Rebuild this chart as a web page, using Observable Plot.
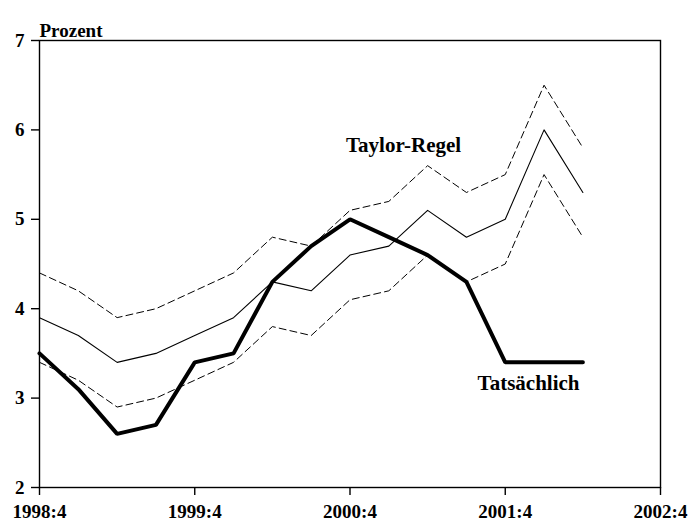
<!DOCTYPE html>
<html>
<head>
<meta charset="utf-8">
<script src="https://cdn.jsdelivr.net/npm/d3@7"></script>
<script src="https://cdn.jsdelivr.net/npm/@observablehq/plot@0.6"></script>
<style>
  html, body { margin: 0; padding: 0; background: #fff; }
  #chart svg { display: block; overflow: visible; }
</style>
</head>
<body>
<div id="chart"></div>
<script>
// Quarter axis (all positions on the x scale)
const allQuarters = ["1998:4","1999:1","1999:2","1999:3","1999:4","2000:1","2000:2","2000:3",
  "2000:4","2001:1","2001:2","2001:3","2001:4","2002:1","2002:2","2002:3","2002:4"];
const tickQuarters = ["1998:4","1999:4","2000:4","2001:4","2002:4"];
const yTicks = [2, 3, 4, 5, 6, 7];

// Observed quarters
const quarters = ["1998:4","1999:1","1999:2","1999:3","1999:4","2000:1","2000:2","2000:3",
  "2000:4","2001:1","2001:2","2001:3","2001:4","2002:1","2002:2"];
// Taylor rule (central) and its band
const taylor = [3.9, 3.7, 3.4, 3.5, 3.7, 3.9, 4.3, 4.2, 4.6, 4.7, 5.1, 4.8, 5.0, 6.0, 5.3];
const taylorUpper = [4.4, 4.2, 3.9, 4.0, 4.2, 4.4, 4.8, 4.7, 5.1, 5.2, 5.6, 5.3, 5.5, 6.5, 5.8];
const taylorLower = [3.4, 3.2, 2.9, 3.0, 3.2, 3.4, 3.8, 3.7, 4.1, 4.2, 4.6, 4.3, 4.5, 5.5, 4.8];
// Actual rate
const actual = [3.5, 3.1, 2.6, 2.7, 3.4, 3.5, 4.3, 4.7, 5.0, 4.8, 4.6, 4.3, 3.4, 3.4, 3.4];

// Annotations
const labels = [
  {text: "Taylor-Regel", q: 9.38, v: 5.83},
  {text: "Tatsächlich", q: 12.6, v: 3.17}
];

const qi = q => allQuarters.indexOf(q);
const mk = vals => quarters.map((q, i) => ({x: qi(q), y: vals[i]}));

const font = "'Liberation Serif', 'Times New Roman', serif";

const chart = Plot.plot({
  width: 691,
  height: 523,
  marginLeft: 39,
  marginRight: 31,
  marginTop: 40,
  marginBottom: 36,
  style: {fontFamily: font, fontSize: "19px", fontWeight: "bold", color: "#000", background: "#fff", overflow: "visible"},
  x: {domain: [0, allQuarters.length - 1], label: null},
  y: {domain: [2, 7], label: null},
  marks: [
    Plot.frame({stroke: "#000", strokeWidth: 1.4}),
    Plot.axisY({ticks: yTicks, tickFormat: d3.format("d"), tickSize: 8, tickPadding: 7, label: null, fontSize: 19, strokeWidth: 1.4}),
    Plot.axisX({ticks: tickQuarters.map(qi), tickFormat: i => allQuarters[i], tickSize: 8, tickPadding: 9, label: null, fontSize: 19, strokeWidth: 1.4}),
    Plot.line(mk(taylorUpper), {x: "x", y: "y", stroke: "#000", strokeWidth: 1, strokeDasharray: "7,4"}),
    Plot.line(mk(taylorLower), {x: "x", y: "y", stroke: "#000", strokeWidth: 1, strokeDasharray: "7,4"}),
    Plot.line(mk(taylor), {x: "x", y: "y", stroke: "#000", strokeWidth: 1.1}),
    Plot.line(mk(actual), {x: "x", y: "y", stroke: "#000", strokeWidth: 4, strokeLinejoin: "miter"}),
    Plot.text(labels, {x: "q", y: "v", text: "text", fontSize: 21, fill: "#000"}),
    Plot.text(["Prozent"], {frameAnchor: "top-left", dy: -17, textAnchor: "start", fontSize: 19, fill: "#000"})
  ]
});
document.getElementById("chart").append(chart);
</script>
</body>
</html>
